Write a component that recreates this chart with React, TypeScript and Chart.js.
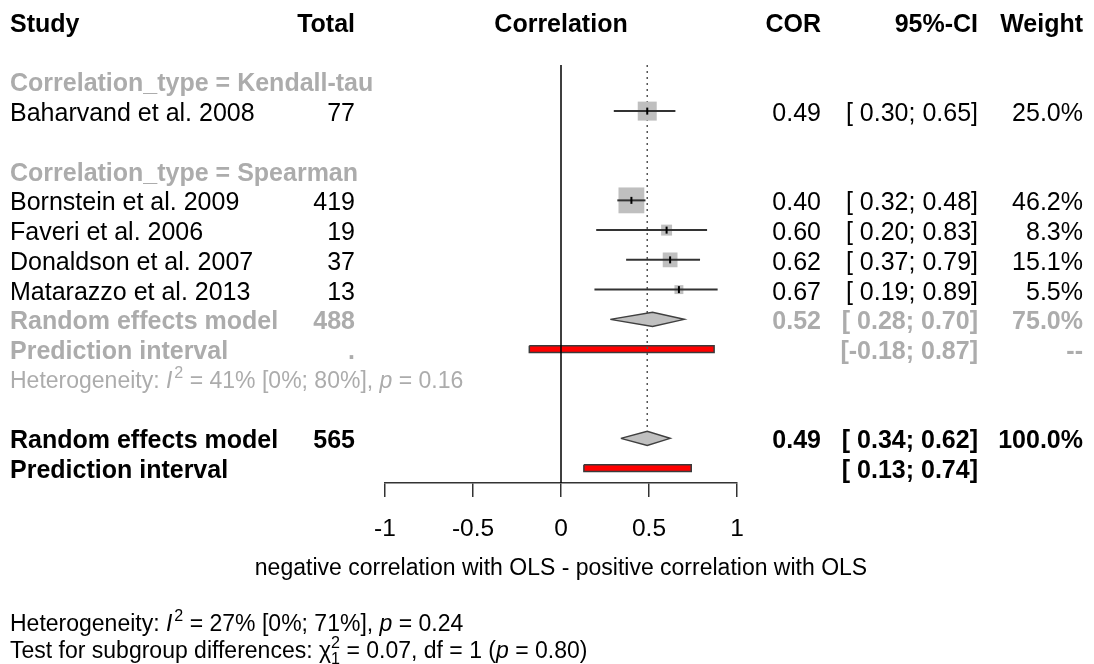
import React, { useEffect, useRef } from 'react';
import { Chart, registerables } from 'chart.js';

Chart.register(...registerables);

// ---------------- data ----------------
const studyLabels = [
  'Baharvand et al. 2008',
  'Bornstein et al. 2009',
  'Faveri et al. 2006',
  'Donaldson et al. 2007',
  'Matarazzo et al. 2013',
];
const studyTotals = [77, 419, 19, 37, 13];
const studyCor = [0.49, 0.40, 0.60, 0.62, 0.67];
const studyLower = [0.30, 0.32, 0.20, 0.37, 0.19];
const studyUpper = [0.65, 0.48, 0.83, 0.79, 0.89];
const studyWeights = [25.0, 46.2, 8.3, 15.1, 5.5];
const studyRows = [2, 5, 6, 7, 8];

const groupLabels = ['Correlation_type = Kendall-tau', 'Correlation_type = Spearman'];
const groupRows = [1, 4];

const summaryLabels = ['Random effects model', 'Random effects model'];
const summaryTotals = [488, 565];
const summaryCor = [0.52, 0.49];
const summaryLower = [0.28, 0.34];
const summaryUpper = [0.70, 0.62];
const summaryWeights = [75.0, 100.0];
const summaryRows = [9, 13];
const summaryIsSubgroup = [true, false];

const predLabels = ['Prediction interval', 'Prediction interval'];
const predLower = [-0.18, 0.13];
const predUpper = [0.87, 0.74];
const predRows = [10, 14];

const hetI2 = [41, 27];
const hetI2Lower = [0, 0];
const hetI2Upper = [80, 71];
const hetP = [0.16, 0.24];
const hetRow = 11;
const testChi2 = 0.07;
const testDf = 1;
const testP = 0.80;

const xTicks = [-1, -0.5, 0, 0.5, 1];
const headerLabels = ['Study', 'Total', 'Correlation', 'COR', '95%-CI', 'Weight'];
const xTitle = 'negative correlation with OLS - positive correlation with OLS';

const rowMin = 0.45;
const rowMax = 14.5;

// ---------------- styles ----------------
const FONT = '"Liberation Sans", Arial, Helvetica, sans-serif';
const GREY = '#acacac';
const BLACK = '#000000';
const TS = 25;
const HS = 23;
const squareScale = 3.8;
const diamondHalf = 0.24;
const piHalf = 0.11;

function setFont(ctx: CanvasRenderingContext2D, size: number, bold = false, italic = false) {
  ctx.font = `${italic ? 'italic ' : ''}${bold ? 'bold ' : ''}${size}px ${FONT}`;
}

function txt(
  ctx: CanvasRenderingContext2D,
  s: string,
  x: number,
  yMid: number,
  align: CanvasTextAlign,
  size: number,
  bold: boolean,
  color: string
) {
  setFont(ctx, size, bold);
  ctx.fillStyle = color;
  ctx.textAlign = align;
  ctx.textBaseline = 'alphabetic';
  ctx.fillText(s, x, yMid + size * 0.358 + 1);
}

type Seg = { t?: string; it?: boolean; sup?: string; sub?: string; gap?: number };

function rich(ctx: CanvasRenderingContext2D, segs: Seg[], x: number, yMid: number, size: number, color: string) {
  ctx.fillStyle = color;
  ctx.textAlign = 'left';
  ctx.textBaseline = 'alphabetic';
  const base = yMid + size * 0.358;
  let cx = x;
  for (const s of segs) {
    if (s.t !== undefined) {
      setFont(ctx, size, false, !!s.it);
      ctx.fillText(s.t, cx, base);
      cx += ctx.measureText(s.t).width + (s.gap || 0);
    } else {
      const ss = size * 0.7;
      setFont(ctx, ss);
      let w = 0;
      if (s.sup) {
        ctx.fillText(s.sup, cx, base - size * 0.45);
        w = Math.max(w, ctx.measureText(s.sup).width);
      }
      if (s.sub) {
        ctx.fillText(s.sub, cx, base + size * 0.25);
        w = Math.max(w, ctx.measureText(s.sub).width);
      }
      cx += w;
    }
  }
}

const fmtCI = (lo: number, hi: number) =>
  `[${lo < 0 ? lo.toFixed(2) : ' ' + lo.toFixed(2)}; ${hi.toFixed(2)}]`;

const COL_STUDY = 10;
const COL_TOTAL = 355;
const COL_COR = 821;
const COL_CI = 978;
const COL_W = 1083;
const HEADER_ROW = -1;

const tablePlugin = {
  id: 'forestTable',
  afterDraw(chart: any) {
    const ctx: CanvasRenderingContext2D = chart.ctx;
    const xs = chart.scales.x;
    const ys = chart.scales.y;
    const yp = (r: number) => ys.getPixelForValue(r);
    ctx.save();

    // header
    const hy = yp(HEADER_ROW);
    txt(ctx, headerLabels[0], COL_STUDY, hy, 'left', TS, true, BLACK);
    txt(ctx, headerLabels[1], COL_TOTAL, hy, 'right', TS, true, BLACK);
    txt(ctx, headerLabels[2], xs.getPixelForValue(0), hy, 'center', TS, true, BLACK);
    txt(ctx, headerLabels[3], COL_COR, hy, 'right', TS, true, BLACK);
    txt(ctx, headerLabels[4], COL_CI, hy, 'right', TS, true, BLACK);
    txt(ctx, headerLabels[5], COL_W, hy, 'right', TS, true, BLACK);

    // subgroup labels
    groupLabels.forEach((g, i) => txt(ctx, g, COL_STUDY, yp(groupRows[i]), 'left', TS, true, GREY));

    // studies
    studyLabels.forEach((s, i) => {
      const y = yp(studyRows[i]);
      txt(ctx, s, COL_STUDY, y, 'left', TS, false, BLACK);
      txt(ctx, String(studyTotals[i]), COL_TOTAL, y, 'right', TS, false, BLACK);
      txt(ctx, studyCor[i].toFixed(2), COL_COR, y, 'right', TS, false, BLACK);
      txt(ctx, fmtCI(studyLower[i], studyUpper[i]), COL_CI, y, 'right', TS, false, BLACK);
      txt(ctx, studyWeights[i].toFixed(1) + '%', COL_W, y, 'right', TS, false, BLACK);
    });

    // summaries
    summaryLabels.forEach((s, i) => {
      const y = yp(summaryRows[i]);
      const c = summaryIsSubgroup[i] ? GREY : BLACK;
      txt(ctx, s, COL_STUDY, y, 'left', TS, true, c);
      txt(ctx, String(summaryTotals[i]), COL_TOTAL, y, 'right', TS, true, c);
      txt(ctx, summaryCor[i].toFixed(2), COL_COR, y, 'right', TS, true, c);
      txt(ctx, fmtCI(summaryLower[i], summaryUpper[i]), COL_CI, y, 'right', TS, true, c);
      txt(ctx, summaryWeights[i].toFixed(1) + '%', COL_W, y, 'right', TS, true, c);
    });

    // prediction intervals
    predLabels.forEach((s, i) => {
      const y = yp(predRows[i]);
      const c = summaryIsSubgroup[i] ? GREY : BLACK;
      txt(ctx, s, COL_STUDY, y, 'left', TS, true, c);
      txt(ctx, fmtCI(predLower[i], predUpper[i]), COL_CI, y, 'right', TS, true, c);
      if (summaryIsSubgroup[i]) {
        txt(ctx, '.', COL_TOTAL, y, 'right', TS, true, c);
        txt(ctx, '--', COL_W, y, 'right', TS, true, c);
      }
    });

    // subgroup heterogeneity
    rich(
      ctx,
      [
        { t: 'Heterogeneity: ' },
        { t: 'I', it: true, gap: 2 },
        { sup: '2' },
        { t: ` = ${hetI2[0]}% [${hetI2Lower[0]}%; ${hetI2Upper[0]}%], ` },
        { t: 'p', it: true },
        { t: ` = ${hetP[0].toFixed(2)}` },
      ],
      COL_STUDY,
      yp(hetRow) + 1,
      HS,
      GREY
    );

    // x-axis title
    setFont(ctx, 23);
    ctx.fillStyle = BLACK;
    ctx.textAlign = 'center';
    ctx.textBaseline = 'alphabetic';
    ctx.fillText(xTitle, xs.getPixelForValue(0), 567 + 23 * 0.358);

    // bottom statistics
    rich(
      ctx,
      [
        { t: 'Heterogeneity: ' },
        { t: 'I', it: true, gap: 2 },
        { sup: '2' },
        { t: ` = ${hetI2[1]}% [${hetI2Lower[1]}%; ${hetI2Upper[1]}%], ` },
        { t: 'p', it: true },
        { t: ` = ${hetP[1].toFixed(2)}` },
      ],
      COL_STUDY,
      623,
      HS,
      BLACK
    );
    rich(
      ctx,
      [
        { t: 'Test for subgroup differences: ' },
        { t: 'χ' },
        { sup: '2', sub: String(testDf) },
        { t: ` = ${testChi2.toFixed(2)}, df = ${testDf} (` },
        { t: 'p', it: true },
        { t: ` = ${testP.toFixed(2)})` },
      ],
      COL_STUDY,
      650,
      HS,
      BLACK
    );

    ctx.restore();
  },
};

function buildDatasets() {
  const ds: any[] = [];
  // prediction interval bars
  predRows.forEach((r, i) =>
    ds.push({
      data: [
        { x: predLower[i], y: r - piHalf },
        { x: predUpper[i], y: r - piHalf },
        { x: predUpper[i], y: r + piHalf },
        { x: predLower[i], y: r + piHalf },
        { x: predLower[i], y: r - piHalf },
      ],
      fill: 'shape',
      backgroundColor: '#ff0000',
      borderColor: '#3a3a3a',
      borderWidth: 1.5,
      pointRadius: 0,
      order: 8,
    })
  );
  // line of no effect
  ds.push({
    data: [
      { x: 0, y: rowMin },
      { x: 0, y: rowMax },
    ],
    borderColor: '#000000',
    borderWidth: 1.5,
    pointRadius: 0,
    order: 7,
  });
  // dotted line at overall random effects estimate
  ds.push({
    data: [
      { x: summaryCor[1], y: rowMin },
      { x: summaryCor[1], y: summaryRows[1] - diamondHalf },
    ],
    borderColor: '#555555',
    borderWidth: 1.5,
    borderDash: [2, 4],
    pointRadius: 0,
    order: 6,
  });
  // diamonds
  summaryRows.forEach((r, i) =>
    ds.push({
      data: [
        { x: summaryLower[i], y: r },
        { x: summaryCor[i], y: r - diamondHalf },
        { x: summaryUpper[i], y: r },
        { x: summaryCor[i], y: r + diamondHalf },
        { x: summaryLower[i], y: r },
      ],
      fill: 'shape',
      backgroundColor: '#c0c0c0',
      borderColor: '#404040',
      borderWidth: 1.5,
      pointRadius: 0,
      order: 5,
    })
  );
  // weight squares
  ds.push({
    data: studyCor.map((c, i) => ({ x: c, y: studyRows[i] })),
    showLine: false,
    pointStyle: 'rect',
    pointRadius: studyWeights.map((w) => (Math.sqrt(w) * squareScale) / Math.SQRT2),
    pointBackgroundColor: '#bfbfbf',
    pointBorderWidth: 0,
    order: 4,
  });
  // confidence interval lines
  studyRows.forEach((r, i) =>
    ds.push({
      data: [
        { x: studyLower[i], y: r },
        { x: studyUpper[i], y: r },
      ],
      borderColor: '#333333',
      borderWidth: 2,
      pointRadius: 0,
      order: 3,
    })
  );
  // point estimate ticks
  ds.push({
    data: studyCor.map((c, i) => ({ x: c, y: studyRows[i] })),
    showLine: false,
    pointStyle: 'line',
    pointRotation: 90,
    pointRadius: 3.5,
    pointBorderColor: '#000000',
    pointBorderWidth: 2,
    order: 2,
  });
  return ds;
}

export default function App() {
  const ref = useRef<HTMLCanvasElement>(null);
  useEffect(() => {
    const chart = new Chart(ref.current as HTMLCanvasElement, {
      type: 'line',
      data: { datasets: buildDatasets() },
      plugins: [tablePlugin],
      options: {
        responsive: false,
        animation: false,
        devicePixelRatio: 1,
        events: [],
        layout: { padding: { left: 385, right: 357, top: 65, bottom: 101.6 } },
        plugins: { legend: { display: false }, tooltip: { enabled: false } },
        scales: {
          x: {
            type: 'linear',
            min: -1,
            max: 1,
            afterBuildTicks: (s: any) => {
              s.ticks = xTicks.map((v) => ({ value: v }));
            },
            grid: { drawOnChartArea: false, drawTicks: true, tickLength: 14, color: '#333333', lineWidth: 1.5 },
            border: { display: true, color: '#333333', width: 1.5 },
            ticks: {
              color: BLACK,
              font: { family: FONT, size: 24.5 },
              padding: 18,
              maxRotation: 0,
              autoSkip: false,
              callback: (v: any) => String(v),
            },
            title: { display: false },
          },
          y: { type: 'linear', reverse: true, min: rowMin, max: rowMax, display: false },
        },
      } as any,
    });
    return () => chart.destroy();
  }, []);
  return (
    <div style={{ position: 'fixed', left: 0, top: 0, width: 1094, height: 664, background: '#ffffff' }}>
      <canvas ref={ref} width={1094} height={664} style={{ width: 1094, height: 664, display: 'block' }} />
    </div>
  );
}
